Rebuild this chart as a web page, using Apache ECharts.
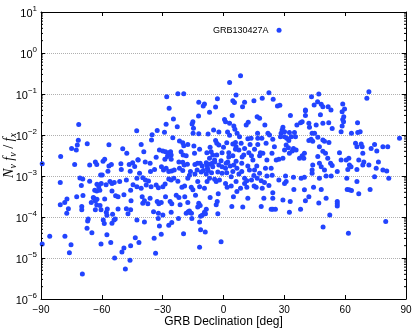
<!DOCTYPE html>
<html>
<head>
<meta charset="utf-8">
<script src="https://cdn.jsdelivr.net/npm/echarts@6.0.0/dist/echarts.min.js"></script>
<style>
html, body { margin: 0; padding: 0; background: #fff; }
#chart { width: 415px; height: 330px; }
</style>
</head>
<body>
<div id="chart"></div>
<script>
// [declination in deg, N_nu f_nu / f_x]
var bandSouth = [
  [-71.4,1.8e-2],[-42.8,1.27e-2],[-71.6,7.4e-3],[-72.1,5.7e-3],[-72.6,4.3e-3],[-74.9,4.7e-3],[-67.2,6.1e-3],[-56.5,5.8e-3],[-49.7,4.6e-3],[-47.7,3.6e-3],
  [-80.3,3.0e-3],[-89.4,2.0e-3],[-73.4,1.9e-3],[-66.0,1.85e-3],[-63.2,2.2e-3],[-62.5,1.9e-3],[-59.4,2.3e-3],[-58.6,2.55e-3],[-56.5,1.75e-3],[-55.3,1.9e-3],
  [-50.6,2.0e-3],[-50.4,1.45e-3],[-46.5,1.9e-3],[-44.8,2.1e-3],[-46.0,1.3e-3],[-43.8,1.7e-3],[-42.2,2.5e-3],[-57.0,1.3e-3],[-60.6,1.06e-3],[-59.8,1.06e-3],
  [-80.5,6.9e-4],[-70.8,8.9e-4],[-69.4,8.4e-4],[-70.1,5.9e-4],[-66.0,7.4e-4],[-62.4,6.3e-4],[-61.5,5.5e-4],[-63.5,4.5e-4],[-62.5,4.3e-4],[-61.0,4.5e-4],
  [-60.3,6.6e-4],[-57.9,6.1e-4],[-56.0,7.3e-4],[-55.0,6.6e-4],[-53.9,6.9e-4],[-51.2,7.3e-4],[-47.9,8.0e-4],[-44.6,6.1e-4],[-42.7,5.5e-4],[-42.7,8.8e-4],
  [-45.8,4.5e-4],[-55.0,4.3e-4],[-53.2,3.3e-4],[-52.0,3.1e-4],[-49.1,3.5e-4],[-63.9,2.85e-4],[-69.3,3.35e-4],[-72.4,3.1e-4],[-77.2,2.75e-4],[-58.6,2.75e-4],
  [-80.5,2.0e-4],[-78.3,2.25e-4],[-76.5,1.6e-4],[-77.3,1.23e-4],[-69.9,1.8e-4],[-69.9,1.5e-4],[-65.2,2.25e-4],[-64.2,3.0e-4],[-63.2,2.45e-4],[-62.4,2.7e-4],
  [-62.5,1.95e-4],[-60.9,1.9e-4],[-60.4,1.5e-4],[-63.2,1.5e-4],[-57.3,1.57e-4],[-57.8,1.3e-4],[-57.5,1.1e-4],[-54.7,1.16e-4],[-52.0,1.57e-4],[-47.9,1.6e-4],
  [-45.8,1.5e-4],[-47.1,1.2e-4],[-45.6,2.5e-4],[-66.7,8.9e-5],[-67.0,8.0e-5],[-59.3,8.5e-5],[-58.8,6.9e-5],[-55.0,7.0e-5],[-54.0,8.5e-5],[-53.4,8.9e-5],
  [-42.7,8.5e-5],[-67.3,5.3e-5],[-64.9,4.15e-5],[-57.5,3.7e-5],[-85.7,3.4e-5],[-78.2,3.4e-5],[-89.4,2.2e-5],[-75.2,2.1e-5],[-60.4,2.2e-5],[-55.6,2.4e-5],
  [-76.0,1.35e-5],[-49.1,1.75e-5],[-50.1,1.4e-5],[-45.8,2.0e-5],[-43.5,3.1e-5],[-53.7,1.0e-5],[-46.1,8.8e-6],[-48.4,5.4e-6],[-69.6,4.1e-6]
];

var bandMid = [
  [-28.0,8.6e-2],[-22.5,1.02e-1],[-19.6,1.02e-1],[-26.8,4.5e-2],[-12.2,6.3e-2],[-9.4,5.7e-2],[-10.0,5.1e-2],[-3.9,4.8e-2],[-3.0,7.7e-2],[3.0,1.9e-1],
  [8.4,2.8e-1],[4.6,6.8e-2],[5.4,6.2e-2],[6.2,9.5e-2],[10.4,6.3e-2],[9.4,4.9e-2],[15.0,6.8e-2],[19.1,7.9e-2],[22.4,1.08e-1],[24.5,7.4e-2],[26.6,5.1e-2],
  [-6.9,3.6e-2],[-12.3,2.9e-2],[-15.1,2.1e-2],[-15.5,1.86e-2],[0.5,2.4e-2],[4.3,3.0e-2],[1.0,2.1e-2],[3.0,1.93e-2],[5.1,1.66e-2],[5.6,1.38e-2],
  [11.2,1.75e-2],[12.2,2.04e-2],[16.6,2.8e-2],[17.8,2.55e-2],[20.4,1.75e-2],[-24.7,2.45e-2],[-28.3,1.82e-2],[-22.8,1.6e-2],[-35.2,1.02e-2],[-32.7,1.28e-2],
  [-29.1,1.16e-2],[-14.8,1.46e-2],[-15.0,1.1e-2],[-12.2,1.08e-2],[-7.6,1.06e-2],[-4.9,1.32e-2],[-2.3,1.18e-2],[2.0,1.18e-2],[3.0,9.8e-3],[6.7,1.1e-2],
  [7.9,9.1e-3],[12.0,8.1e-3],[13.6,8.3e-3],[16.8,1.1e-2],[16.9,8.3e-3],[18.9,8.3e-3],[21.9,1.1e-2],[-35.5,7.6e-3],[-40.6,5.9e-3],[-25.0,8.6e-3],
  [-21.7,7.1e-3],[-20.1,6.5e-3],[-19.6,5.5e-3],[-17.6,5.9e-3],[-14.6,5.4e-3],[-11.8,4.5e-3],[-6.6,5.0e-3],[-3.9,7.3e-3],[-3.3,6.3e-3],[-2.3,5.7e-3],
  [-0.7,3.7e-3],[0.0,5.0e-3],[1.6,6.5e-3],[2.6,3.7e-3],[4.6,6.0e-3],[5.9,6.6e-3],[6.2,5.2e-3],[5.9,4.5e-3],[7.6,4.3e-3],[8.7,6.3e-3],
  [10.4,4.7e-3],[13.1,5.9e-3],[15.3,4.5e-3],[16.9,5.9e-3],[18.2,3.7e-3],[19.4,3.6e-3],[21.0,6.3e-3],[-39.3,3.9e-3],[-31.6,4.3e-3],[-29.9,4.1e-3],
  [-28.6,3.9e-3],[-27.0,3.7e-3],[-26.1,3.9e-3],[-25.8,3.25e-3],[-27.4,3.25e-3],[-20.9,3.9e-3],[-19.9,3.25e-3],[-18.4,3.1e-3],[-14.3,3.6e-3],[-8.2,3.7e-3],
  [-6.1,3.9e-3],[-5.3,3.25e-3],[-6.9,2.7e-3],[-4.4,2.45e-3],[-3.3,3.25e-3],[-1.2,2.35e-3],[2.6,2.9e-3],[4.6,3.1e-3],[6.2,2.3e-3],[9.2,2.9e-3],
  [10.0,3.25e-3],[12.5,3.7e-3],[13.8,3.1e-3],[14.5,2.45e-3],[17.8,3.1e-3],[21.4,2.45e-3],[-42.1,2.45e-3],[-38.6,2.2e-3],[-36.2,2.04e-3],[-33.2,2.85e-3],
  [-28.9,2.55e-3],[-27.6,3.0e-3],[-25.8,2.55e-3],[-22.0,2.2e-3],[-20.1,2.15e-3],[-19.4,1.86e-3],[-17.8,1.93e-3],[-14.1,1.9e-3],[-12.8,2.04e-3],[-11.5,2.04e-3],
  [-10.5,1.75e-3],[-8.5,2.1e-3],[-8.2,1.86e-3],[-7.9,1.55e-3],[-6.9,1.93e-3],[-5.6,2.04e-3],[-4.3,2.2e-3],[-2.3,1.86e-3],[-0.7,1.69e-3],[1.3,2.04e-3],
  [2.1,2.2e-3],[3.3,1.75e-3],[5.1,1.86e-3],[6.6,1.55e-3],[9.0,2.04e-3],[12.0,1.75e-3],[12.8,1.4e-3],[15.3,1.4e-3],[16.4,1.75e-3],[20.7,1.55e-3],
  [-41.4,1.16e-3],[-39.8,9.1e-4],[-38.5,8.0e-4],[-36.0,1.28e-3],[-34.0,1.45e-3],[-30.6,1.69e-3],[-29.6,1.4e-3],[-28.3,1.55e-3],[-27.0,1.28e-3],[-25.6,1.33e-3],
  [-24.3,1.4e-3],[-21.7,1.55e-3],[-20.1,1.36e-3],[-16.8,1.05e-3],[-16.3,1.28e-3],[-14.1,1.12e-3],[-13.0,1.4e-3],[-11.0,1.25e-3],[-9.9,1.36e-3],[-8.5,1.12e-3],
  [-7.6,1.36e-3],[-5.9,1.2e-3],[-5.3,1.69e-3],[-2.8,1.25e-3],[-0.7,1.16e-3],[1.0,1.55e-3],[1.6,1.2e-3],[3.8,9.6e-4],[4.6,1.28e-3],[7.6,1.12e-3],
  [9.0,1.28e-3],[10.4,8.8e-4],[11.5,7.7e-4],[15.0,1.03e-3],[16.6,8.8e-4],[17.8,1.16e-3],[18.6,7.7e-4],[21.4,1.0e-3],[-40.6,5.0e-4],[-38.1,6.0e-4],
  [-37.0,7.6e-4],[-35.7,5.5e-4],[-33.2,6.0e-4],[-32.1,5.2e-4],[-29.9,5.5e-4],[-28.8,6.4e-4],[-27.0,8.5e-4],[-25.8,8.0e-4],[-24.5,8.8e-4],[-22.5,7.4e-4],
  [-20.5,5.3e-4],[-19.2,5.7e-4],[-17.6,8.8e-4],[-15.9,5.3e-4],[-15.1,4.6e-4],[-12.7,7.3e-4],[-11.8,5.5e-4],[-9.4,5.0e-4],[-8.1,7.3e-4],[-6.9,8.8e-4],
  [-4.4,8.3e-4],[-3.6,7.3e-4],[-2.0,8.0e-4],[1.0,6.6e-4],[1.8,5.3e-4],[3.8,5.7e-4],[6.2,7.3e-4],[6.6,4.2e-4],[8.4,5.0e-4],[10.4,6.6e-4],
  [11.5,5.3e-4],[13.8,8.0e-4],[15.1,5.7e-4],[16.1,5.3e-4],[19.1,5.0e-4],[20.2,6.9e-4],[22.4,5.9e-4],[-40.1,3.1e-4],[-36.2,2.85e-4],[-28.6,3.1e-4],
  [-23.3,3.4e-4],[-22.0,3.0e-4],[-19.1,3.1e-4],[-13.8,3.4e-4],[-6.6,3.0e-4],[-2.6,3.7e-4],[4.9,3.1e-4],[12.0,2.85e-4],[19.9,2.85e-4],
  [-39.8,2.16e-4],[-39.0,2.5e-4],[-37.3,2.1e-4],[-32.7,2.4e-4],[-31.9,2.1e-4],[-30.7,2.25e-4],[-26.3,2.4e-4],[-25.5,2.1e-4],[-21.4,2.0e-4],[-17.6,2.25e-4],
  [-12.2,2.16e-4],[-11.5,1.9e-4],[-12.7,1.75e-4],[-8.5,1.55e-4],[-9.4,1.3e-4],[-17.4,1.35e-4],[-16.6,1.28e-4],[-15.8,1.23e-4],[-16.8,1.4e-4],[-18.4,1.23e-4],
  [-3.1,2.4e-4],[-3.6,2.0e-4],[-2.8,1.2e-4],[4.1,1.8e-4],[9.5,1.75e-4],[18.6,1.8e-4],[-34.5,1.35e-4],[-32.1,1.23e-4],[-32.2,9.2e-5],[-29.9,1.12e-4],
  [-25.8,1.3e-4],[-25.5,7.3e-5],[-27.0,6.3e-5],[-22.2,9.2e-5],[-15.6,9.2e-5],[-11.3,1.05e-4],[-10.5,1.1e-4],[-8.9,1.2e-4],[-11.8,7.6e-5],[-11.3,4.9e-5],
  [-9.0,4.3e-5],[-39.0,7.6e-5],[-31.6,6.0e-5],[-30.7,3.8e-5],[-34.2,3.05e-5],[-19.7,3.9e-5],[-41.7,2.4e-5],[-11.8,1.82e-5],[-1.2,2.5e-5],[-33.5,1.3e-5]
];

var bandNorth = [
  [27.8,5.3e-2],[43.4,8.6e-2],[47.0,1.0e-1],[46.4,6.5e-2],[44.7,5.4e-2],[48.2,5.6e-2],[49.0,4.9e-2],[51.6,4.9e-2],[53.0,4.1e-2],[58.8,5.7e-2],
  [59.7,4.3e-2],[70.7,7.9e-2],[71.7,1.14e-1],[40.4,4.1e-2],[58.5,3.7e-2],[59.3,2.8e-2],[58.8,2.4e-2],
  [33.0,3.0e-2],[40.4,3.9e-2],[40.4,3.0e-2],[38.8,2.1e-2],[42.1,1.93e-2],[42.4,1.55e-2],[45.7,1.75e-2],[49.0,1.93e-2],[51.9,2.0e-2],[47.8,3.1e-2],
  [53.6,1.45e-2],[59.2,2.1e-2],[58.5,1.66e-2],[58.0,1.2e-2],[66.1,2.0e-2],[63.1,1.1e-2],[66.2,1.15e-2],[67.4,1.2e-2],[29.3,1.55e-2],[28.9,1.32e-2],
  [28.4,1.1e-2],[30.1,1.2e-2],[28.1,9.1e-3],[30.1,9.1e-3],[32.5,1.15e-2],[31.2,8.3e-3],[32.2,7.3e-3],[33.4,9.1e-3],[35.0,1.15e-2],[36.2,1.75e-2],
  [38.0,2.0e-2],[35.5,9.1e-3],[22.7,1.0e-2],[24.3,7.9e-3],[25.1,5.2e-3],[23.9,3.6e-3],[26.0,2.45e-3],[27.3,2.55e-3],[29.3,2.7e-3],[30.1,4.3e-3],
  [30.9,5.7e-3],[32.0,4.9e-3],[32.5,3.6e-3],[33.9,4.1e-3],[34.5,4.7e-3],[35.8,4.3e-3],[37.5,2.7e-3],[38.8,3.1e-3],[39.6,2.7e-3],[39.9,3.6e-3],
  [42.1,7.3e-3],[43.2,7.9e-3],[44.0,7.0e-3],[43.7,1.1e-2],[44.9,1.1e-2],[46.5,8.8e-3],[47.3,5.2e-3],[49.0,7.6e-3],[49.8,7.0e-3],[52.0,6.6e-3],
  [49.0,4.0e-3],[50.3,3.6e-3],[46.5,3.0e-3],[44.0,1.86e-3],[43.7,1.4e-3],[47.3,2.04e-3],[48.2,1.69e-3],[49.8,1.4e-3],[51.4,2.7e-3],[52.8,2.04e-3],
  [53.6,1.8e-3],[56.1,1.28e-3],[57.2,3.7e-3],[58.0,2.45e-3],[60.5,2.45e-3],[61.8,2.7e-3],[62.1,1.86e-3],[61.3,1.45e-3],[62.9,1.69e-3],[65.1,6.3e-3],
  [65.8,5.2e-3],[67.9,6.0e-3],[68.7,3.6e-3],[68.4,5.2e-3],[66.7,2.45e-3],[69.2,2.2e-3],[71.7,1.86e-3],[72.8,4.7e-3],[75.6,4.1e-3],[78.6,5.2e-3],
  [81.0,5.2e-3],[74.5,5.9e-3],[76.4,2.2e-3],[78.6,1.4e-3],[80.5,1.33e-3],[75.3,1.55e-3],[74.5,9.6e-4],[81.5,8.8e-4],[65.8,1.45e-3],[68.7,1.86e-3],
  [86.8,8.3e-3],[23.5,1.55e-3],[24.0,1.05e-3],[27.3,8.0e-4],[30.6,1.0e-3],[30.9,7.3e-4],[30.1,6.6e-4],[34.5,9.3e-4],[34.7,4.7e-4],[38.3,8.8e-4],
  [39.9,9.3e-4],[43.7,1.16e-3],[44.4,5.3e-4],[47.3,8.8e-4],[48.2,4.7e-4],[50.6,1.0e-3],[53.1,1.0e-3],[39.9,4.6e-4],[42.1,3.1e-4],[40.4,2.5e-4],
  [24.3,3.9e-4],[24.3,2.85e-4],[50.6,2.85e-4],[61.0,4.7e-4],[62.0,4.6e-4],[63.1,4.4e-4],[66.7,3.7e-4],[60.8,8.8e-4],[65.8,7.3e-4],[72.3,4.7e-4],
  [23.5,1.55e-4],[24.3,1.55e-4],[25.6,1.55e-4],[29.3,2.6e-4],[32.9,2.4e-4],[32.5,1.3e-4],[38.0,1.55e-4],[47.0,2.2e-4],[56.1,2.4e-4],[56.1,2.1e-4],
  [56.1,1.85e-4],[52.4,1.12e-4],[49.1,5.7e-5],[61.6,4.0e-5],[80.0,7.8e-5]
];

// the highlighted burst
var grb130427a = [27.4, 3.6];

var xTicks = [-90, -60, -30, 0, 30, 60, 90];
var yDecades = [-6, -5, -4, -3, -2, -1, 0, 1];

// minor ticks of the log axis, 2..9 x 10^n
var minorTickVals = [];
for (var e = yDecades[0]; e < yDecades[yDecades.length - 1]; e++) {
  for (var k = 2; k <= 9; k++) minorTickVals.push([xTicks[0], k * Math.pow(10, e)]);
}

var FONT = 'Liberation Sans';
var SERIF = 'Liberation Serif';
var MINUS = '\u2212';

var chart = echarts.init(document.getElementById('chart'), null, { renderer: 'canvas' });

function expLabel (v) {
  var p = Math.round(Math.log(v) / Math.LN10);
  return '{b|10}{s|' + (p < 0 ? MINUS + (-p) : p) + '}';
}

var option = {
  animation: false,
  backgroundColor: '#fff',
  grid: { left: 41, right: 9, top: 12, bottom: 31, containLabel: false, outerBoundsMode: 'none' },
  xAxis: [{
    type: 'value',
    min: xTicks[0],
    max: xTicks[xTicks.length - 1],
    interval: 30,
    name: 'GRB Declination [deg]',
    nameLocation: 'middle',
    nameGap: 17,
    nameMoveOverlap: false,
    nameTextStyle: { fontFamily: FONT, fontSize: 12, color: '#000', verticalAlign: 'top' },
    axisLine: { onZero: false, lineStyle: { color: '#000', width: 1 } },
    axisTick: { inside: true, length: 4, lineStyle: { color: '#000' } },
    axisLabel: {
      margin: 6,
      fontFamily: FONT,
      fontSize: 10,
      color: '#000',
      formatter: function (v) { return v < 0 ? MINUS + (-v) : String(v) }
    },
    splitLine: { show: false }
  }, {
    type: 'value',
    position: 'top',
    min: xTicks[0],
    max: xTicks[xTicks.length - 1],
    interval: 30,
    axisLine: { onZero: false, lineStyle: { color: '#000', width: 1 } },
    axisTick: { inside: true, length: 4, lineStyle: { color: '#000' } },
    axisLabel: { show: false },
    splitLine: { show: false }
  }],
  yAxis: [{
    type: 'log',
    logBase: 10,
    min: Math.pow(10, yDecades[0]),
    max: Math.pow(10, yDecades[yDecades.length - 1]),
    name: '{i|N}{sb|\u03bd}{i| f}{sb|\u03bd}{n| / }{i|f}{sb|x}',
    nameLocation: 'middle',
    nameRotate: 90,
    nameGap: 23,
    nameMoveOverlap: false,
    nameTextStyle: {
      rich: {
        i: { fontFamily: SERIF, fontStyle: 'italic', fontSize: 14, color: '#000', verticalAlign: 'top' },
        n: { fontFamily: SERIF, fontSize: 14, color: '#000', verticalAlign: 'top' },
        sb: { fontFamily: SERIF, fontStyle: 'italic', fontSize: 10, color: '#000', verticalAlign: 'top', padding: [6, 0, 0, 0] }
      }
    },
    axisLine: { onZero: false, lineStyle: { color: '#000', width: 1 } },
    axisTick: { inside: true, length: 4, lineStyle: { color: '#000' } },
    axisLabel: {
      margin: 4,
      formatter: expLabel,
      rich: {
        b: { fontFamily: FONT, fontSize: 11, color: '#000', verticalAlign: 'bottom' },
        s: { fontFamily: FONT, fontSize: 8, color: '#000', verticalAlign: 'bottom', padding: [0, 0, 6, 0] }
      }
    },
    splitLine: { show: true, lineStyle: { color: '#b0b0b0', type: 'dotted', width: 1 } }
  }, {
    type: 'log',
    logBase: 10,
    position: 'right',
    min: Math.pow(10, yDecades[0]),
    max: Math.pow(10, yDecades[yDecades.length - 1]),
    axisLine: { onZero: false, lineStyle: { color: '#000', width: 1 } },
    axisTick: { inside: true, length: 4, lineStyle: { color: '#000' } },
    axisLabel: { show: false },
    splitLine: { show: false }
  }],
  series: [{
    type: 'custom',
    silent: true,
    data: minorTickVals,
    z: 5,
    renderItem: function (params, api) {
      var v = api.value(1);
      var l = api.coord([xTicks[0], v]);
      var r = api.coord([xTicks[xTicks.length - 1], v]);
      return {
        type: 'group',
        children: [
          { type: 'line', shape: { x1: l[0], y1: l[1], x2: l[0] + 2, y2: l[1] }, style: { stroke: '#000', lineWidth: 1 } },
          { type: 'line', shape: { x1: r[0], y1: r[1], x2: r[0] - 2, y2: r[1] }, style: { stroke: '#000', lineWidth: 1 } }
        ]
      };
    }
  }, {
    type: 'scatter',
    data: bandSouth.concat(bandMid, bandNorth),
    symbol: 'circle',
    symbolSize: 5,
    itemStyle: { color: '#2244ff', opacity: 1 },
    z: 3
  }, {
    type: 'scatter',
    data: [grb130427a],
    symbol: 'circle',
    symbolSize: 5,
    itemStyle: { color: '#2244ff', opacity: 1 },
    label: {
      show: true,
      position: 'left',
      distance: 8,
      formatter: 'GRB130427A',
      fontFamily: FONT,
      fontSize: 9,
      color: '#000'
    },
    z: 4
  }]
};

chart.setOption(option);
</script>
</body>
</html>
